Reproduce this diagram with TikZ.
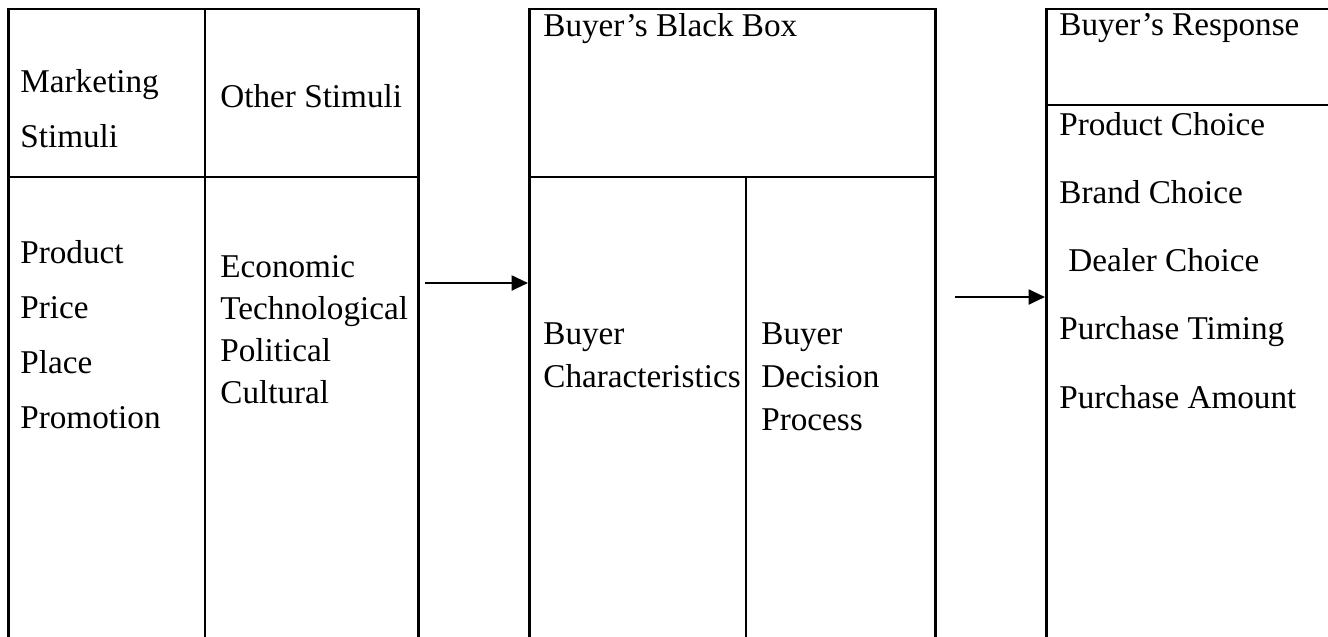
\documentclass[tikz,border=0pt]{standalone}
\usepackage{fontspec}
\setmainfont{Liberation Serif}
\usepackage{tikz}
\usetikzlibrary{arrows.meta,positioning,calc}
\tikzset{
  >={Triangle[length=3.3mm,width=3mm]},
  boxframe/.style={draw, line width=1.5pt, inner sep=0pt, anchor=north west, minimum height=13.35cm},
  divider/.style={line width=1.5pt},
  flow/.style={->, line width=1.4pt},
  txt/.style={anchor=base west, inner sep=0pt, font=\fontsize{18.9}{22}\selectfont}
}

\begin{document}
\begin{tikzpicture}[x=1cm,y=1cm]
  \useasboundingbox (0,0) rectangle (26.56,-12.72);
  % frames, left open at the lower and right page edge
  \node[boxframe,minimum width=8.20cm] (stim) at (0.14,-0.15) {};
  \node[boxframe,minimum width=8.12cm] (bbox) at (10.56,-0.15) {};
  \node[boxframe,minimum width=7.00cm] (resp) at (20.90,-0.15) {};
  \draw[divider] (4.10,-0.15) -- (4.10,-13.5);
  \draw[divider] (0.14,-3.54) -- (8.34,-3.54);
  \draw[divider] (10.56,-3.54) -- (18.68,-3.54);
  \draw[divider] (14.92,-3.54) -- (14.92,-13.5);
  \draw[divider] (20.90,-2.10) -- (27.9,-2.10);

  % stimuli
  \node[txt] (mkt) at (0.40,-1.84) {Marketing};
  \node[txt] (mkt2) at (0.40,-2.94) {Stimuli};
  \node[txt] (oth) at (4.40,-2.14) {Other Stimuli};
  \foreach \w [count=\i] in {Product,Price,Place,Promotion}
    \node[txt] (mix\i) at (0.40,{-5.26-1.1*(\i-1)}) {\w};
  \foreach \w [count=\i] in {Economic,Technological,Political,Cultural}
    \node[txt] (env\i) at (4.40,{-5.54-0.84*(\i-1)}) {\w};

  % black box
  \node[txt] (bbt) at (10.86,-0.72) {Buyer’s Black Box};
  \node[txt] (ch1) at (10.86,-6.88) {Buyer};
  \node[txt] (ch2) at (10.86,-7.74) {Characteristics};
  \foreach \w [count=\i] in {Buyer,Decision,Process}
    \node[txt] (dp\i) at (15.22,{-6.88-0.86*(\i-1)}) {\w};

  % response
  \node[txt] (rst) at (21.18,-0.70) {Buyer’s Response};
  \foreach \w/\dx [count=\i] in {Product Choice/0,Brand Choice/0,Dealer Choice/0.18,Purchase Timing/0,Purchase Amount/0}
    \node[txt] (rs\i) at ({21.18+\dx},{-2.70-1.365*(\i-1)}) {\w};

  % arrows
  \coordinate (a1) at (8.50,-5.66);
  \coordinate (a2) at (19.10,-5.94);
  \draw[flow] (a1) -- (a1 -| bbox.west);
  \draw[flow] (a2) -- (a2 -| resp.west);
\end{tikzpicture}
\end{document}
